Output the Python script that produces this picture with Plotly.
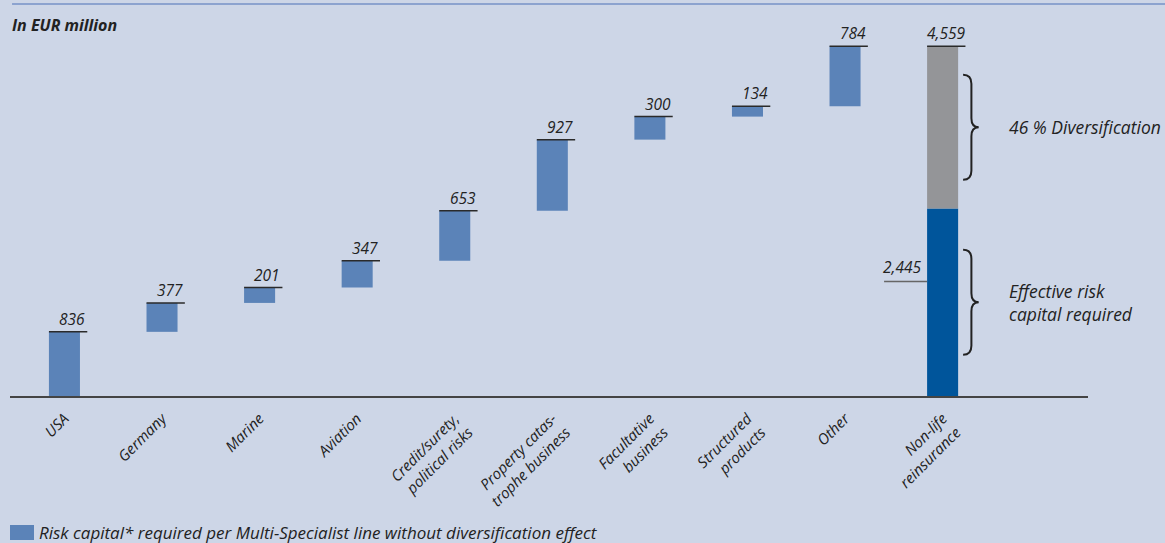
import plotly.graph_objects as go

# ---- data ----
categories = ["USA", "Germany", "Marine", "Aviation",
              "Credit/surety,<br>political risks",
              "Property catas-<br>trophe business",
              "Facultative<br>business", "Structured<br>products", "Other",
              "Non-life<br>reinsurance"]
line_values = [836, 377, 201, 347, 653, 927, 300, 134, 784]
total_value = 4559
effective_value = 2445
diversification_text = "46 % Diversification"
effective_text = "Effective risk<br>capital required"
unit_text = "In EUR million"
legend_text = "Risk capital* required per Multi-Specialist line without diversification effect"

# ---- styles ----
BG = "#cdd6e7"
BLUE = "#5b83b8"
DARK_BLUE = "#00559b"
GRAY = "#949598"
TXT = "#222222"
FONT = "Open Sans"
BAR_W = 0.318
Y_MAX = 4900

n = len(line_values)
bases = []
run = 0
for v in line_values:
    bases.append(run)
    run += v
tops = [b + v for b, v in zip(bases, line_values)]
fmt = lambda v: f"{v:,}"

fig = go.Figure()
fig.add_trace(go.Bar(x=list(range(n)), y=line_values, base=bases, width=BAR_W,
                     marker=dict(color=BLUE, line=dict(width=0)), hoverinfo="skip",
                     showlegend=False))
fig.add_trace(go.Bar(x=[n], y=[effective_value], base=[0], width=BAR_W,
                     marker=dict(color=DARK_BLUE, line=dict(width=0)), showlegend=False))
fig.add_trace(go.Bar(x=[n], y=[total_value - effective_value], base=[effective_value],
                     width=BAR_W, marker=dict(color=GRAY, line=dict(width=0)),
                     showlegend=False))

shapes = []
annotations = []
all_tops = tops + [total_value]
for i, t in enumerate(all_tops):
    shapes.append(dict(type="line", xref="x", yref="y", x0=i - BAR_W / 2,
                       x1=i + BAR_W / 2 + 0.075, y0=t, y1=t,
                       line=dict(color="#2a2a2a", width=1.5)))
    annotations.append(dict(xref="x", yref="y", x=i + (0.08 if i < n else 0.03), y=t,
                            text=fmt(t if i == n else line_values[i]),
                            showarrow=False, yanchor="bottom", xanchor="center",
                            yshift=0,
                            font=dict(family=FONT, size=15.5, color=TXT, style="italic",
                                      weight=500)))

# 2,445 label with leader line
lab_y = effective_value * 0.61
shapes.append(dict(type="line", xref="x", yref="y", x0=n - 0.6, x1=n - BAR_W / 2,
                   y0=lab_y, y1=lab_y, line=dict(color="#666666", width=1.5)))
annotations.append(dict(xref="x", yref="y", x=n - 0.42, y=lab_y, text=fmt(effective_value),
                        showarrow=False, yanchor="bottom", xanchor="center", yshift=2,
                        font=dict(family=FONT, size=15.5, color=TXT, style="italic")))

# braces
def px_to_val(px_h):
    return px_h / 376 * Y_MAX

def brace(ymid, half_px):
    h = px_to_val(half_px)
    d = px_to_val(9)
    x0, x1, x2 = n + 0.21, n + 0.295, n + 0.37
    top, bot = ymid + h, ymid - h
    return (f"M {x0},{top} Q {x1},{top} {x1},{top - d} L {x1},{ymid + d} "
            f"Q {x1},{ymid} {x2},{ymid} Q {x1},{ymid} {x1},{ymid - d} "
            f"L {x1},{bot + d} Q {x1},{bot} {x0},{bot}")

gray_mid = (total_value + effective_value) / 2
blue_mid = effective_value / 2
for ym in (gray_mid, blue_mid):
    shapes.append(dict(type="path", xref="x", yref="y", path=brace(ym, 52.5),
                       line=dict(color="#222222", width=2)))

annotations.append(dict(xref="x", yref="y", x=n + 0.655, y=gray_mid, text=diversification_text,
                        showarrow=False, xanchor="left", yanchor="middle",
                        font=dict(family=FONT, size=17.5, color=TXT, style="italic",
                                  weight=500)))
annotations.append(dict(xref="x", yref="y", x=n + 0.655, y=blue_mid, text=effective_text,
                        showarrow=False, xanchor="left", yanchor="middle", align="left",
                        font=dict(family=FONT, size=17.5, color=TXT, style="italic",
                                  weight=500)))

# top rule
shapes.append(dict(type="line", xref="paper", yref="paper", x0=0.0019, x1=1.08,
                   y0=(396 - 4) / 376, y1=(396 - 4) / 376,
                   line=dict(color="#8ca3cf", width=2)))
# unit text
annotations.append(dict(xref="paper", yref="paper", x=0.0, y=(396 - 25) / 376,
                        text=unit_text, showarrow=False, xanchor="left", yanchor="middle",
                        font=dict(family=FONT, size=16, color=TXT, style="italic", weight=700)))
# legend
shapes.append(dict(type="rect", xref="paper", yref="paper", x0=0.0, x1=24 / 1078,
                   y0=(396 - 540) / 376, y1=(396 - 525) / 376,
                   fillcolor=BLUE, line=dict(width=0)))
annotations.append(dict(xref="paper", yref="paper", x=27 / 1078, y=(396 - 532) / 376,
                        text=legend_text, showarrow=False, xanchor="left", yanchor="middle",
                        font=dict(family=FONT, size=17, color=TXT, style="italic")))

fig.update_layout(
    width=1165, height=543,
    margin=dict(l=10, r=77, t=20, b=147),
    paper_bgcolor=BG, plot_bgcolor=BG,
    barmode="overlay",
    showlegend=False,
    shapes=shapes, annotations=annotations,
    xaxis=dict(range=[-0.558, 10.49], tickvals=list(range(n + 1)), ticktext=categories,
               tickangle=-45, showgrid=False, zeroline=False, showline=True,
               linecolor="#444444", linewidth=2, ticks="", ticklabelstandoff=6,
               tickfont=dict(family=FONT, size=15, color=TXT, style="italic")),
    yaxis=dict(range=[0, Y_MAX], visible=False, showgrid=False, zeroline=False),
)

fig.write_html("out.html")
